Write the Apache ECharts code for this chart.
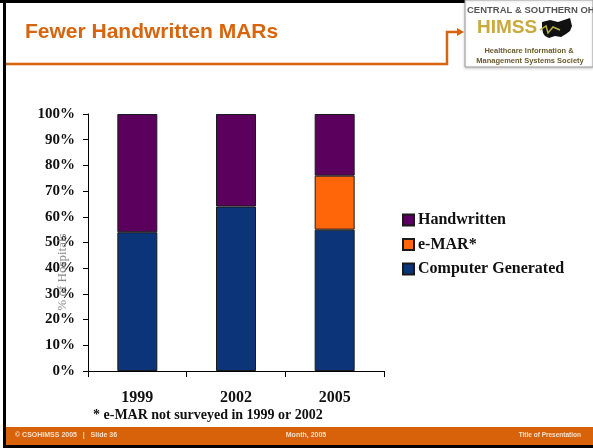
<!DOCTYPE html>
<html>
<head>
<meta charset="utf-8">
<script src="https://cdn.jsdelivr.net/npm/echarts@6/dist/echarts.min.js"></script>
<style>
  html, body { margin: 0; padding: 0; background: #fff; }
  #chart { width: 593px; height: 448px; }
</style>
</head>
<body>
<div id="chart"></div>
<script>
// data
const categories = ['1999', '2002', '2005'];
const computerGenerated = [54, 64, 55];
const eMar = ['-', '-', 21];          // not surveyed in 1999 / 2002
const handwritten = [46, 36, 24];
const yTicks = [0, 10, 20, 30, 40, 50, 60, 70, 80, 90, 100];

const serif = '"Liberation Serif", "DejaVu Serif", serif';
const sans = '"Liberation Sans", Arial, sans-serif';
const orange = '#d8650c';
const olive = '#6a5a2c';

const barBorder = { borderColor: '#1a1a1a', borderWidth: 1 };

const option = {
  animation: false,
  backgroundColor: '#fff',
  grid: { left: 88, top: 114, width: 296, height: 257 },
  legend: {
    orient: 'vertical',
    left: 397,
    top: 207,
    itemWidth: 11,
    itemHeight: 11,
    itemGap: 8.5,
    icon: 'rect',
    textStyle: { fontFamily: serif, fontWeight: 'bold', fontSize: 16, color: '#111', padding: [0, 0, 0, -1] },
    data: ['Handwritten', 'e-MAR*', 'Computer Generated']
  },
  xAxis: {
    type: 'category',
    data: categories,
    axisLine: { lineStyle: { color: '#000', width: 1 } },
    axisTick: { show: true, length: 6, lineStyle: { color: '#000' } },
    axisLabel: { fontFamily: serif, fontWeight: 'bold', fontSize: 16, color: '#111', margin: 19 }
  },
  yAxis: {
    type: 'value',
    min: yTicks[0],
    max: yTicks[yTicks.length - 1],
    interval: 10,
    splitLine: { show: false },
    axisLine: { show: true, lineStyle: { color: '#000', width: 1 } },
    axisTick: { show: true, length: 5, lineStyle: { color: '#000' } },
    axisLabel: { fontFamily: serif, fontWeight: 'bold', fontSize: 15, color: '#111', margin: 13, formatter: '{value}%' }
  },
  series: [
    {
      name: 'Computer Generated', type: 'bar', stack: 'all', barWidth: 40,
      itemStyle: Object.assign({ color: '#0b3479' }, barBorder),
      data: computerGenerated
    },
    {
      name: 'e-MAR*', type: 'bar', stack: 'all', barWidth: 40,
      itemStyle: Object.assign({ color: '#ff660a' }, barBorder),
      data: eMar
    },
    {
      name: 'Handwritten', type: 'bar', stack: 'all', barWidth: 40,
      itemStyle: Object.assign({ color: '#5c005e' }, barBorder),
      data: handwritten
    }
  ],
  graphic: [
    // slide frame
    { type: 'rect', shape: { x: 3, y: 0, width: 3, height: 448 }, style: { fill: '#000' }, z: 1 },
    { type: 'rect', shape: { x: 0, y: 0, width: 465, height: 3 }, style: { fill: '#000' }, z: 1 },
    { type: 'rect', shape: { x: 6, y: 427, width: 587, height: 18 }, style: { fill: '#d8620a' }, z: 1 },
    { type: 'rect', shape: { x: 3, y: 445, width: 590, height: 3 }, style: { fill: '#000' }, z: 1 },
    // title
    { type: 'text', left: 25, top: 22, style: { text: 'Fewer Handwritten MARs', fill: orange, font: 'bold 21px ' + sans }, z: 2 },
    // orange connector line to logo
    { type: 'polyline', shape: { points: [[6, 64], [447, 64], [447, 32], [458, 32]] }, style: { stroke: orange, lineWidth: 2.5, fill: null }, z: 2 },
    { type: 'polygon', shape: { points: [[457, 28], [464, 32], [457, 36]] }, style: { fill: orange }, z: 2 },
    // logo
    { type: 'rect', shape: { x: 465, y: 0, width: 128, height: 67 }, style: { fill: '#fff', stroke: '#9a9a9a', lineWidth: 1, shadowColor: 'rgba(0,0,0,0.2)', shadowBlur: 3, shadowOffsetY: 1 }, z: 2 },
    { type: 'text', x: 467, y: 5, style: { text: 'CENTRAL & SOUTHERN OHIO', fill: '#555', font: 'bold 9.5px ' + sans }, z: 3 },
    { type: 'text', x: 477, y: 18, style: { text: 'HIMSS', fill: '#c9aa3c', font: 'bold 19px ' + sans }, z: 3 },
    { type: 'polygon', shape: { points: [[542, 22], [550, 20], [558, 22], [570, 18], [572, 26], [570, 31], [566, 34], [561, 37], [555, 36], [549, 38], [545, 36], [543, 33], [542, 27]] }, style: { fill: '#111' }, z: 3 },
    { type: 'polyline', shape: { points: [[540, 30], [546, 26], [548, 33], [553, 27], [560, 30]] }, style: { stroke: '#b8b040', lineWidth: 1.5, fill: null }, z: 4 },
    { type: 'text', x: 529, y: 47, style: { text: 'Healthcare Information &', fill: olive, font: 'bold 7.5px ' + sans, align: 'center' }, z: 3 },
    { type: 'text', x: 530, y: 57, style: { text: 'Management Systems Society', fill: olive, font: 'bold 7.5px ' + sans, align: 'center' }, z: 3 },
    // faint rotated axis title
    { type: 'text', x: 63, y: 272, rotation: Math.PI / 2, style: { text: '% of Hospitals', fill: '#8a8a8a', font: '13px ' + serif, align: 'center', verticalAlign: 'middle' }, z: 5 },
    // footnote
    { type: 'text', x: 93, y: 408, style: { text: '* e-MAR not surveyed in 1999 or 2002', fill: '#111', font: 'bold 14px ' + serif }, z: 2 },
    // footer
    { type: 'text', x: 15, y: 432, style: { text: '\u00a9 CSOHIMSS 2005   |   Slide 36', fill: '#f6e0c8', font: 'bold 7px ' + sans }, z: 2 },
    { type: 'text', x: 306, y: 432, style: { text: 'Month, 2005', fill: '#f6e0c8', font: 'bold 7px ' + sans, align: 'center' }, z: 2 },
    { type: 'text', x: 581, y: 432, style: { text: 'Title of Presentation', fill: '#f6e0c8', font: 'bold 6.5px ' + sans, align: 'right' }, z: 2 }
  ]
};

const chart = echarts.init(document.getElementById('chart'), null, { renderer: 'canvas' });
chart.setOption(option);
</script>
</body>
</html>
